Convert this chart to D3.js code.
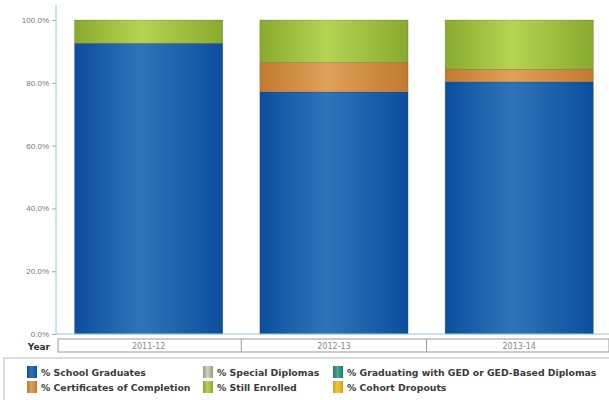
<!DOCTYPE html>
<html>
<head>
<meta charset="utf-8">
<script src="https://cdn.jsdelivr.net/npm/d3@7"></script>
<style>
  body { margin: 0; background: #fff; }
  svg { display: block; font-family: 'DejaVu Sans', sans-serif; }
</style>
</head>
<body>
<main></main>
<script>
// data
const years = ['2011-12', '2012-13', '2013-14'];
const seriesNames = ['% School Graduates', '% Special Diplomas', '% Graduating with GED or GED-Based Diplomas',
  '% Certificates of Completion', '% Still Enrolled', '% Cohort Dropouts'];
const graduates = [92.6, 77.1, 80.3];
const specialDiplomas = [0, 0, 0];
const gedDiplomas = [0, 0, 0];
const certificates = [0, 9.4, 4.0];
const stillEnrolled = [7.4, 13.5, 15.7];
const dropouts = [0, 0, 0];
const yTicks = [0, 20, 40, 60, 80, 100];

// colors [edge, center]
const colors = [
  ['#0c4e9e', '#2f74b8'],
  ['#9a9a8a', '#d0d0c0'],
  ['#1f7a6a', '#4aa894'],
  ['#c27a30', '#e0a058'],
  ['#88aa2e', '#b4d452'],
  ['#d4a010', '#f0c840']
];

const width = 609;
const height = 400;
const plotLeft = 56;
const plotTop = 20;
const plotBottom = 334;

const svg = d3.select('main')
  .append('svg')
  .attr('width', width)
  .attr('height', height);

// gradients, darker at the edges of each bar
const defs = svg.append('defs');
colors.forEach((c, i) => {
  const g = defs.append('linearGradient')
    .attr('id', `grad${i}`)
    .attr('x1', '0%').attr('x2', '100%').attr('y1', '0%').attr('y2', '0%');
  g.append('stop').attr('offset', '0%').attr('stop-color', c[0]);
  g.append('stop').attr('offset', '45%').attr('stop-color', c[1]);
  g.append('stop').attr('offset', '100%').attr('stop-color', c[0]);
});

/************************************************************************
  scales
************************************************************************/
const xScale = d3.scaleBand()
  .domain(years)
  .range([plotLeft, plotLeft + 3 * 185.3])
  .paddingInner(0.2)
  .paddingOuter(0.1);

const yScale = d3.scaleLinear()
  .domain([0, 100])
  .range([plotBottom, plotTop]);

/************************************************************************
  stacked bars
************************************************************************/
const table = years.map((year, i) => ({
  year,
  s0: graduates[i], s1: specialDiplomas[i], s2: gedDiplomas[i],
  s3: certificates[i], s4: stillEnrolled[i], s5: dropouts[i]
}));
const stacked = d3.stack().keys(['s0', 's1', 's2', 's3', 's4', 's5'])(table);

svg.append('g')
  .selectAll('g')
  .data(stacked)
  .join('g')
  .attr('fill', (d, i) => `url(#grad${i})`)
  .selectAll('rect')
  .data(d => d.filter(p => p[1] - p[0] > 0))
  .join('rect')
  .attr('x', d => xScale(d.data.year))
  .attr('y', d => yScale(d[1]))
  .attr('width', xScale.bandwidth())
  .attr('height', d => yScale(d[0]) - yScale(d[1]))
  .attr('stroke', 'rgba(60,60,40,0.35)')
  .attr('stroke-width', 0.6);

/************************************************************************
  axes
************************************************************************/
const yAxis = d3.axisLeft(yScale)
  .tickValues(yTicks)
  .tickSize(4)
  .tickPadding(3)
  .tickFormat(d => d.toFixed(1) + '%');

const yG = svg.append('g')
  .attr('transform', `translate(${plotLeft}, 0)`)
  .call(yAxis);
yG.select('.domain').remove();
yG.selectAll('line').attr('stroke', '#9ab');
yG.selectAll('text').attr('fill', '#777').attr('font-size', 8);

svg.append('line')
  .attr('x1', plotLeft).attr('x2', plotLeft)
  .attr('y1', 5).attr('y2', plotBottom)
  .attr('stroke', '#9cc8d8');
svg.append('line')
  .attr('x1', plotLeft).attr('x2', width)
  .attr('y1', plotBottom).attr('y2', plotBottom)
  .attr('stroke', '#9cc8d8');

// year row, drawn as a table
svg.append('text')
  .text('Year')
  .attr('x', 50)
  .attr('y', 350)
  .attr('text-anchor', 'end')
  .attr('font-size', 9)
  .attr('font-weight', 'bold')
  .attr('fill', '#333');

svg.append('rect')
  .attr('x', 58).attr('y', 339)
  .attr('width', width - 58).attr('height', 13)
  .attr('fill', 'none')
  .attr('stroke', '#999');

const halfGap = xScale.step() * xScale.paddingInner() / 2;
svg.selectAll('.cell')
  .data(years.slice(1))
  .join('line')
  .attr('x1', d => xScale(d) - halfGap)
  .attr('x2', d => xScale(d) - halfGap)
  .attr('y1', 339).attr('y2', 352)
  .attr('stroke', '#999');

svg.selectAll('.yearLabel')
  .data(years)
  .join('text')
  .text(d => d)
  .attr('x', d => xScale(d) + xScale.bandwidth() / 2)
  .attr('y', 349)
  .attr('text-anchor', 'middle')
  .attr('font-size', 8)
  .attr('fill', '#888');

/************************************************************************
  legend
************************************************************************/
svg.append('rect')
  .attr('x', 4).attr('y', 358)
  .attr('width', width + 2).attr('height', 50)
  .attr('fill', 'none')
  .attr('stroke', '#bbb');

const legendX = [27, 203, 333];
const legendY = [366, 381];

seriesNames.forEach((name, i) => {
  const x = legendX[i % 3];
  const y = legendY[Math.floor(i / 3)];
  svg.append('rect')
    .attr('x', x).attr('y', y)
    .attr('width', 10).attr('height', 12)
    .attr('fill', `url(#grad${i})`);
  svg.append('text')
    .text(name)
    .attr('x', x + 14)
    .attr('y', y + 9.5)
    .attr('font-size', 9.3)
    .attr('font-weight', 'bold')
    .attr('fill', '#3a3a3a');
});
</script>
</body>
</html>
